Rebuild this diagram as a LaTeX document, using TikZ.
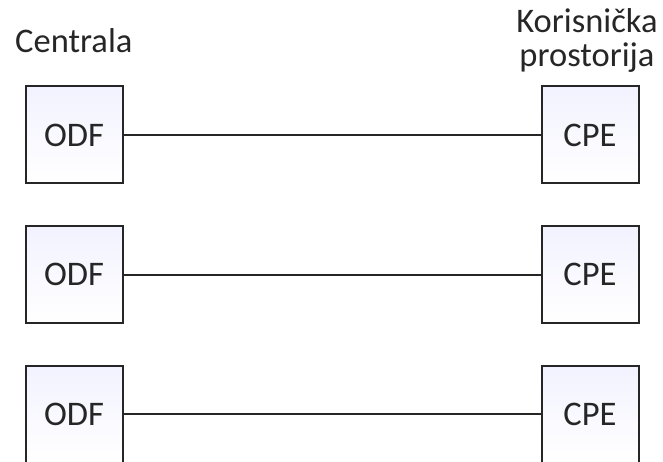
\documentclass[tikz,border=0pt]{standalone}
\usepackage{fontspec}
\setmainfont{Carlito}
\usetikzlibrary{positioning}
\tikzset{
  uredaj/.style={draw=black!85, line width=2pt, minimum size=97pt, inner sep=0pt,
    top color=blue!5!white, bottom color=white, text=black!85,
    font=\fontsize{34.5}{36}\selectfont},
  vod/.style={draw=black!85, line width=2pt},
  natpis/.style={font=\fontsize{34.5}{36}\selectfont, text=black!85, inner sep=0pt}
}
\begin{document}
\begin{tikzpicture}[x=1pt,y=1pt]
  \clip (0,0) rectangle (663,-462);
  \useasboundingbox (0,0) rectangle (663,-462);
  % centrala (lijevo) i korisnik (desno)
  \node[uredaj] (odf1) at (74,-135) {ODF};
  \node[uredaj] (odf2) at (74,-274.5) {ODF};
  \node[uredaj] (odf3) at (74,-414) {ODF};
  \node[uredaj] (cpe1) at (590,-135) {CPE};
  \node[uredaj] (cpe2) at (590,-274.5) {CPE};
  \node[uredaj] (cpe3) at (590,-414) {CPE};
  % vodovi
  \draw[vod] (odf1) -- (cpe1);
  \draw[vod] (odf2) -- (cpe2);
  \draw[vod] (odf3) -- (cpe3);
  % natpisi
  \node[natpis, anchor=base west] (centrala) at (15,-53) {Centrala};
  \node[natpis, anchor=base] (korisnik) at (587,-33) {Korisnička};
  \node[natpis, anchor=base] (prostorija) at (587,-67) {prostorija};
\end{tikzpicture}
\end{document}
